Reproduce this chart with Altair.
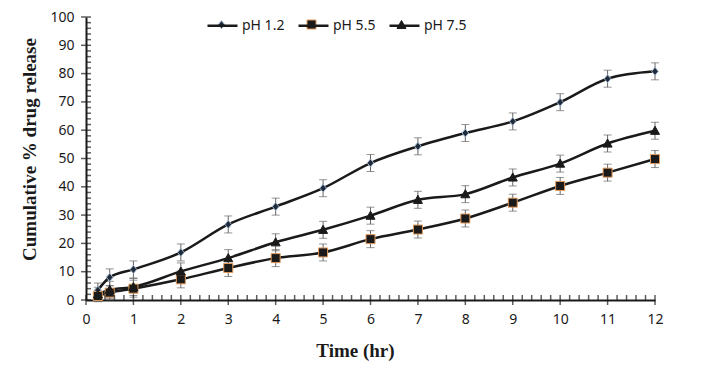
import altair as alt
import numpy as np
import pandas as pd

time = [0.25, 0.5, 1, 2, 3, 4, 5, 6, 7, 8, 9, 10, 11, 12]
ph12 = [3.5, 8.0, 10.8, 16.8, 26.7, 33.0, 39.5, 48.4, 54.3, 59.0, 63.1, 69.9, 78.2, 80.8]
ph55 = [1.4, 2.6, 4.0, 7.3, 11.3, 14.8, 16.8, 21.5, 24.9, 28.8, 34.4, 40.3, 45.0, 49.8]
ph75 = [2.0, 3.6, 4.6, 10.1, 14.8, 20.4, 24.8, 29.8, 35.4, 37.4, 43.3, 48.2, 55.3, 59.8]
err12 = [2.5, 3.0, 3.0, 3.0, 3.0, 3.0, 3.0, 3.0, 3.0, 3.0, 3.0, 3.0, 3.0, 3.0]
err55 = [2.0, 2.5, 3.0, 3.0, 3.0, 3.0, 3.0, 3.0, 3.0, 3.0, 3.0, 3.0, 3.0, 3.0]
err75 = [2.5, 3.0, 3.0, 3.0, 3.0, 3.0, 3.0, 3.0, 3.0, 3.0, 3.0, 3.0, 3.0, 3.0]
series = ["pH 1.2", "pH 5.5", "pH 7.5"]
x_ticks = list(range(0, 13))
y_ticks = list(range(0, 101, 10))

rows = []
for s, vals, errs in zip(series, [ph12, ph55, ph75], [err12, err55, err75]):
    for t, v, e in zip(time, vals, errs):
        rows.append({"time": t, "release": v, "lo": v - e, "hi": v + e,
                     "series": s, "s_line": s})
df = pd.DataFrame(rows)

x_major = pd.DataFrame({"time": x_ticks})
x_minor = pd.DataFrame({"time": [v for v in np.round(np.arange(0, 12.01, 0.2), 2) if abs(v - round(v)) > 1e-6]})
y_major = pd.DataFrame({"release": y_ticks})
y_minor = pd.DataFrame({"release": [v for v in range(0, 101, 2) if v % 10 != 0]})

FONT = "Noto Sans"
TFONT = "Liberation Serif"
INK = "#1a1a1a"

xs = alt.Scale(domain=[0, 12], nice=False, zero=False)
ys = alt.Scale(domain=[0, 100], nice=False)

x_axis = alt.Axis(values=x_ticks, ticks=False, grid=False, domainColor=INK, domainWidth=2,
                  labelFont=FONT, labelFontSize=14, labelColor=INK, labelPadding=12,
                  labelOverlap=False, labelFlush=False,
                  title="Time (hr)", titleFont=TFONT, titleFontSize=19, titleFontWeight="bold",
                  titleColor=INK, titleX=269, titleY=50, titleBaseline="middle")
y_axis = alt.Axis(values=y_ticks, ticks=False, grid=False, domainColor=INK, domainWidth=2,
                  labelFont=FONT, labelFontSize=14, labelColor=INK, labelPadding=12,
                  labelOverlap=False, labelFlush=False,
                  title="Cumulative % drug release", titleFont=TFONT, titleFontSize=19,
                  titleFontWeight="bold", titleColor=INK, titleX=-57, titleY=132,
                  titleBaseline="middle", titleAngle=270)


def X(field):
    return alt.X(f"{field}:Q", scale=xs, axis=x_axis)


def Y(field):
    return alt.Y(f"{field}:Q", scale=ys, axis=y_axis)


base = alt.Chart(df)

errbars = base.mark_rule(color="#666666", strokeWidth=1).encode(
    x=X("time"), y=Y("lo"), y2="hi:Q")
cap_lo = base.mark_tick(color="#666666", thickness=1, size=8, orient="horizontal").encode(
    x=X("time"), y=Y("lo"))
cap_hi = base.mark_tick(color="#666666", thickness=1, size=8, orient="horizontal").encode(
    x=X("time"), y=Y("hi"))

LX, LY = 120, -8
lines = base.mark_line(strokeWidth=2.5, interpolate="monotone").encode(
    x=X("time"), y=Y("release"),
    color=alt.Color("s_line:N", scale=alt.Scale(domain=series, range=[INK, INK, INK]),
                    legend=alt.Legend(orient="none", legendX=LX, legendY=LY, direction="horizontal",
                                      title=None, symbolSize=900, symbolType="stroke",
                                      symbolStrokeWidth=2.5, labelFont=FONT, labelFontSize=14,
                                      labelColor=INK, labelOffset=3, columnPadding=8, padding=0)),
    detail="series:N",
)

shape_paths = [
    "M0,-0.27L0.22,0L0,0.27L-0.22,0Z",
    "M-0.3,-0.3L0.3,-0.3L0.3,0.3L-0.3,0.3Z",
    "M0,-0.3L0.3,0.24L-0.3,0.24Z",
]
fills = ["#1f2a3a", INK, INK]
strokes = ["#9fb4cc", "#e39a5a", INK]

pleg = alt.Legend(orient="none", legendX=LX, legendY=LY, direction="horizontal", title=None,
                  symbolSize=900, symbolStrokeWidth=1, labelExpr="''", labelOffset=3,
                  columnPadding=56, padding=0)
points = base.mark_point(filled=True, size=900, strokeWidth=1, opacity=1).encode(
    x=X("time"), y=Y("release"),
    shape=alt.Shape("series:N", scale=alt.Scale(domain=series, range=shape_paths), legend=pleg),
    fill=alt.Fill("series:N", scale=alt.Scale(domain=series, range=fills), legend=pleg),
    stroke=alt.Stroke("series:N", scale=alt.Scale(domain=series, range=strokes), legend=pleg),
)

xzero = alt.YDatum(0, scale=ys, axis=y_axis)
yzero = alt.XDatum(0, scale=xs, axis=x_axis)
xmaj = alt.Chart(x_major).mark_tick(color=INK, thickness=1.5, size=10, orient="vertical").encode(
    x=X("time"), y=xzero)
xmin = alt.Chart(x_minor).mark_tick(color=INK, thickness=1.5, size=5, orient="vertical", yOffset=-2.5).encode(
    x=X("time"), y=xzero)
ymaj = alt.Chart(y_major).mark_tick(color=INK, thickness=1.5, size=10, orient="horizontal").encode(
    y=Y("release"), x=yzero)
ymin = alt.Chart(y_minor).mark_tick(color=INK, thickness=1.5, size=5, orient="horizontal", xOffset=2.5).encode(
    y=Y("release"), x=yzero)

chart = alt.layer(errbars, cap_lo, cap_hi, lines, points, xmaj, xmin, ymaj, ymin).resolve_scale(
    color="independent"
).properties(
    width=569, height=283,
    padding={"left": 11, "top": 1, "right": 10, "bottom": 5},
    background="white",
).configure_view(stroke=None)

chart.save("out.html", embed_options={"renderer": "svg", "actions": False})
